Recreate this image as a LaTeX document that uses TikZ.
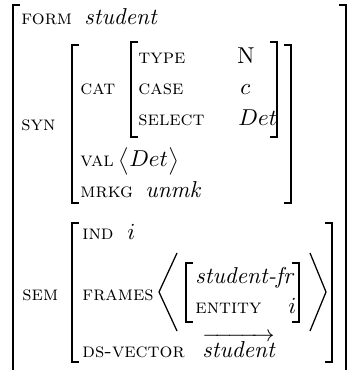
\documentclass[tikz,border=0pt]{standalone}
\usepackage{amsmath}
\usepackage{tikz}
\usetikzlibrary{positioning}
\tikzset{feat/.style={font=\fontsize{8.8}{11}\selectfont\scshape,anchor=base west,inner sep=0pt},
  val/.style={anchor=base west,inner sep=0pt},
  brak/.style={line width=0.8pt},
  angl/.style={line width=0.55pt}}

\begin{document}
\begin{tikzpicture}[x=0.4348pt,y=-0.4348pt]
    \clip (0,0) rectangle (351,370);

    % attribute names
    \foreach \pos/\name/\txt in {{(21,25)/form/form}, {(21,131)/syn/syn}, {(80,95)/cat/cat},
        {(138,64)/type/type}, {(138,95)/case/case}, {(138,126)/select/select},
        {(80,167)/val/val}, {(80,198)/mrkg/mrkg}, {(82,240)/ind/ind},
        {(22,300)/sem/sem}, {(82,300)/frames/frames}, {(195,313)/entity/entity},
        {(82,357)/dsvec/ds-vector}}
        \node[feat] (\name) at \pos {\txt};

    % values
    \foreach \pos/\name/\txt in {{(84,25)/vform/\textit{student}}, {(237,64)/vtype/N},
        {(240,95)/vcase/$c$}, {(238,126)/vselect/$Det$},
        {(118,167)/vval/$\bigl\langle Det\bigr\rangle$}, {(145,198)/vmrkg/\textit{unmk}},
        {(127,240)/vind/$i$}, {(195,283)/frtype/\textit{student-fr}},
        {(288,313)/ventity/$i$}, {(202,357)/vdsvec/$\overrightarrow{\textit{student}}$}}
        \node[val] (\name) at \pos {\txt};

    % brackets: left/right/top/bottom
    \foreach \l/\r/\t/\b in {13/346/5/380, 72/291/45/203, 131/277/42/137,
        72/332/223/362, 186/299/263/322}
    {
        \draw[brak] (\l+7,\t) -| (\l,\b) -- (\l+7,\b);
        \draw[brak] (\r-7,\t) -| (\r,\b) -- (\r-7,\b);
    }

    % list brackets of FRAMES
    \draw[angl] (177,253) -- (159,292) -- (177,331);
    \draw[angl] (310,253) -- (326,292) -- (310,331);

\end{tikzpicture}
\end{document}
